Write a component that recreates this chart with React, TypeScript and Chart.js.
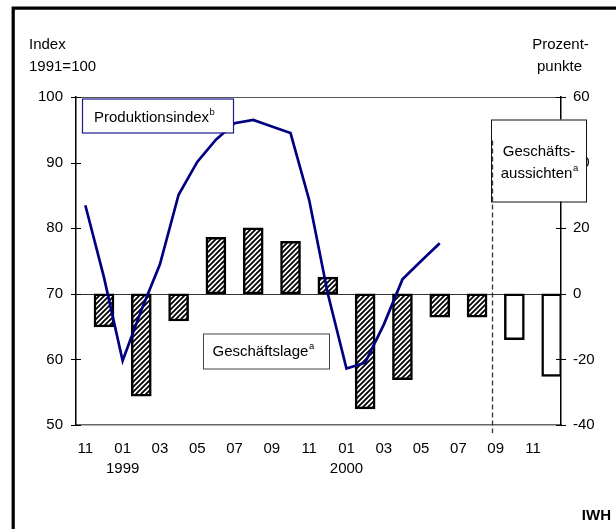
import React, { useEffect, useRef } from 'react';
import { Chart, registerables } from 'chart.js';

Chart.register(...registerables);

// Monthly categories Nov 1998 .. Dec 2000
const monthLabels = ['11','12','01','02','03','04','05','06','07','08','09','10','11','12','01','02','03','04','05','06','07','08','09','10','11','12'];
const yearLabels = ['','','1999','','','','','','','','','','','','2000','','','','','','','','','','',''];

// Produktionsindex (1991=100), left axis
const production = [83.5, 72.5, 59.8, 67.5, 74.5, 85.1, 90.1, 93.5, 96.0, 96.5, 95.5, 94.5, 84.3, 70.0, 58.6, 59.5, 65.3, 72.2, 75.0, 77.7, null, null, null, null, null, null];

// Geschäftslage (Prozentpunkte), right axis, bimonthly
const lage = [null, -10.1, null, -31.2, null, -8.3, null, 17.2, null, 20.1, null, 16.0, null, 5.1, null, -35.1, null, -26.2, null, -7.1, null, -7.1, null, null, null, null];
// Geschäftsaussichten (Prozentpunkte), right axis
const aussichten = [null, null, null, null, null, null, null, null, null, null, null, null, null, null, null, null, null, null, null, null, null, null, null, -14.0, null, -25.2];

const leftTicks = { min: 50, max: 100, step: 10 };
const rightTicks = { min: -40, max: 60, step: 20 };
const forecastDivider = 21.8;

const FONT = "'Liberation Sans', Arial, sans-serif";

function makeHatch(): CanvasPattern | string {
  const c = document.createElement('canvas');
  const s = 5;
  c.width = s;
  c.height = s;
  const g = c.getContext('2d');
  if (!g) return '#888';
  g.fillStyle = '#fff';
  g.fillRect(0, 0, s, s);
  g.strokeStyle = '#000';
  g.lineWidth = 1.8;
  g.beginPath();
  g.moveTo(0, s);
  g.lineTo(s, 0);
  g.moveTo(-1, 1);
  g.lineTo(1, -1);
  g.moveTo(s - 1, s + 1);
  g.lineTo(s + 1, s - 1);
  g.stroke();
  const p = g.createPattern(c, 'repeat');
  return p || '#888';
}

function supText(ctx: CanvasRenderingContext2D, text: string, sup: string, x: number, y: number, align: 'left' | 'center') {
  ctx.font = `15px ${FONT}`;
  const w = ctx.measureText(text).width;
  ctx.font = `9.5px ${FONT}`;
  const ws = ctx.measureText(sup).width;
  let start = x;
  if (align === 'center') start = x - (w + ws + 0.5) / 2;
  ctx.textAlign = 'left';
  ctx.textBaseline = 'alphabetic';
  ctx.font = `15px ${FONT}`;
  ctx.fillText(text, start, y);
  ctx.font = `9.5px ${FONT}`;
  ctx.fillText(sup, start + w + 0.5, y - 7.5);
}

const decorations = {
  id: 'decorations',
  beforeDatasetsDraw(chart: any) {
    const { ctx, chartArea: ca } = chart;
    const y2 = chart.scales.y2;
    ctx.save();
    // top frame line of plot area
    ctx.strokeStyle = '#555';
    ctx.lineWidth = 1;
    ctx.beginPath();
    ctx.moveTo(ca.left, ca.top + 0.5);
    ctx.lineTo(ca.right, ca.top + 0.5);
    ctx.stroke();
    // zero line
    const zy = Math.round(y2.getPixelForValue(0)) + 0.5;
    ctx.strokeStyle = '#333';
    ctx.beginPath();
    ctx.moveTo(ca.left, zy);
    ctx.lineTo(ca.right, zy);
    ctx.stroke();
    ctx.restore();
  },
  afterDraw(chart: any) {
    const { ctx, chartArea: ca } = chart;
    const yL = chart.scales.y;
    const yR = chart.scales.y2;
    const xs = chart.scales.x;
    ctx.save();
    // tick marks
    ctx.strokeStyle = '#000';
    ctx.lineWidth = 1;
    for (let v = leftTicks.min; v <= leftTicks.max; v += leftTicks.step) {
      const py = Math.round(yL.getPixelForValue(v)) + 0.5;
      ctx.beginPath();
      ctx.moveTo(ca.left - 5, py);
      ctx.lineTo(ca.left + 5, py);
      ctx.stroke();
    }
    for (let v = rightTicks.min; v <= rightTicks.max; v += rightTicks.step) {
      const py = Math.round(yR.getPixelForValue(v)) + 0.5;
      ctx.beginPath();
      ctx.moveTo(ca.right - 5, py);
      ctx.lineTo(ca.right + 5, py);
      ctx.stroke();
    }

    ctx.fillStyle = '#000';
    // Produktionsindex box
    const b1x = ca.left + 6, b1y = ca.top + 1.5, b1w = 151, b1h = 34;
    ctx.fillStyle = '#fff';
    ctx.fillRect(b1x, b1y, b1w, b1h);
    ctx.strokeStyle = '#1c1c90';
    ctx.lineWidth = 1.2;
    ctx.strokeRect(b1x + 0.5, b1y + 0.5, b1w, b1h);
    ctx.fillStyle = '#000';
    supText(ctx, 'Produktionsindex', 'b', b1x + 12, b1y + 23.5, 'left');

    // Geschäftslage box
    const b2x = ca.left + 127, b2y = ca.top + 236.5, b2w = 126, b2h = 35;
    ctx.fillStyle = '#fff';
    ctx.fillRect(b2x, b2y, b2w, b2h);
    ctx.strokeStyle = '#444';
    ctx.lineWidth = 1;
    ctx.strokeRect(b2x + 0.5, b2y + 0.5, b2w, b2h);
    ctx.fillStyle = '#000';
    supText(ctx, 'Geschäftslage', 'a', b2x + 9.5, b2y + 22.5, 'left');

    // Geschäftsaussichten box
    const b3x = ca.left + 415, b3y = ca.top + 22.5, b3w = 95, b3h = 82;
    ctx.fillStyle = '#fff';
    ctx.fillRect(b3x, b3y, b3w, b3h);
    ctx.strokeStyle = '#111';
    ctx.lineWidth = 1;
    ctx.strokeRect(b3x + 0.5, b3y + 0.5, b3w, b3h);
    ctx.fillStyle = '#000';
    ctx.font = `15px ${FONT}`;
    ctx.textAlign = 'center';
    ctx.textBaseline = 'alphabetic';
    ctx.fillText('Geschäfts-', b3x + b3w / 2 + 0.5, b3y + 36);
    supText(ctx, 'aussichten', 'a', b3x + b3w / 2 + 1, b3y + 58.5, 'center');

    // dashed divider
    const dx = Math.round(xs.getPixelForValue(forecastDivider)) + 0.5;
    ctx.strokeStyle = '#333';
    ctx.lineWidth = 1.3;
    ctx.setLineDash([5, 3]);
    ctx.beginPath();
    ctx.moveTo(dx, b3y + 21);
    ctx.lineTo(dx, ca.bottom + 8);
    ctx.stroke();
    ctx.setLineDash([]);

    // axis titles
    ctx.fillStyle = '#000';
    ctx.font = `15px ${FONT}`;
    ctx.textAlign = 'left';
    ctx.textBaseline = 'alphabetic';
    ctx.fillText('Index', 29, 48.5);
    ctx.fillText('1991=100', 29, 70.5);
    ctx.textAlign = 'center';
    ctx.fillText('Prozent-', ca.right - 0.5, 48.5);
    ctx.fillText('punkte', ca.right - 1.5, 70.5);

    ctx.font = `bold 15px ${FONT}`;
    ctx.textAlign = 'right';
    ctx.fillText('IWH', 611, 520);

    // outer frame
    ctx.strokeStyle = '#000';
    ctx.lineWidth = 3.2;
    ctx.beginPath();
    ctx.moveTo(13.2, 529);
    ctx.lineTo(13.2, 8.2);
    ctx.lineTo(616, 8.2);
    ctx.stroke();
    ctx.restore();
  },
};

export default function App() {
  const ref = useRef<HTMLCanvasElement | null>(null);

  useEffect(() => {
    if (!ref.current) return;
    const hatch = makeHatch();
    const tickFont = { family: FONT, size: 15, lineHeight: 1.33 };
    const chart = new Chart(ref.current, {
      type: 'bar',
      data: {
        labels: monthLabels,
        datasets: [
          {
            type: 'line',
            label: 'Produktionsindex',
            data: production,
            borderColor: '#000080',
            borderWidth: 2.7,
            pointRadius: 0,
            tension: 0,
            yAxisID: 'y',
            order: 0,
          } as any,
          {
            type: 'bar',
            label: 'Geschäftslage',
            data: lage,
            backgroundColor: hatch,
            borderColor: '#000',
            borderWidth: 2.5,
            borderSkipped: false,
            barThickness: 20,
            grouped: false,
            yAxisID: 'y2',
            order: 1,
          } as any,
          {
            type: 'bar',
            label: 'Geschäftsaussichten',
            data: aussichten,
            backgroundColor: '#fff',
            borderColor: '#000',
            borderWidth: 2.5,
            borderSkipped: false,
            barThickness: 20,
            grouped: false,
            yAxisID: 'y2',
            order: 1,
          } as any,
        ],
      },
      options: {
        animation: false,
        responsive: false,
        devicePixelRatio: 1,
        layout: { padding: { left: 16, right: 0, top: 97, bottom: 44 } },
        plugins: { legend: { display: false }, tooltip: { enabled: false } },
        scales: {
          x: {
            type: 'category',
            offset: true,
            grid: { display: false, drawTicks: false },
            border: { display: true, color: '#666', width: 1.5 },
            ticks: {
              autoSkip: false,
              maxRotation: 0,
              minRotation: 0,
              padding: 14,
              color: '#000',
              font: tickFont,
              callback: (_v: any, i: number) => {
                if (i % 2 === 1) return '';
                return yearLabels[i] ? [monthLabels[i], yearLabels[i]] : monthLabels[i];
              },
            },
            afterFit: (s: any) => { s.height = 60; },
          },
          y: {
            type: 'linear',
            position: 'left',
            min: leftTicks.min,
            max: leftTicks.max,
            grid: { display: false, drawTicks: false },
            border: { display: true, color: '#000', width: 1.5 },
            ticks: { stepSize: leftTicks.step, padding: 13, color: '#000', font: tickFont },
            afterFit: (s: any) => { s.width = 60; },
          },
          y2: {
            type: 'linear',
            position: 'right',
            min: rightTicks.min,
            max: rightTicks.max,
            grid: { display: false, drawTicks: false },
            border: { display: true, color: '#000', width: 1.5 },
            ticks: { stepSize: rightTicks.step, padding: 12, color: '#000', font: tickFont },
            afterFit: (s: any) => { s.width = 55; },
          },
        },
      },
      plugins: [decorations],
    } as any);
    return () => chart.destroy();
  }, []);

  return (
    <div style={{ position: 'absolute', left: 0, top: 0, width: 616, height: 529, background: '#fff' }}>
      <canvas ref={ref} width={616} height={529} style={{ display: 'block', width: 616, height: 529 }} />
    </div>
  );
}
